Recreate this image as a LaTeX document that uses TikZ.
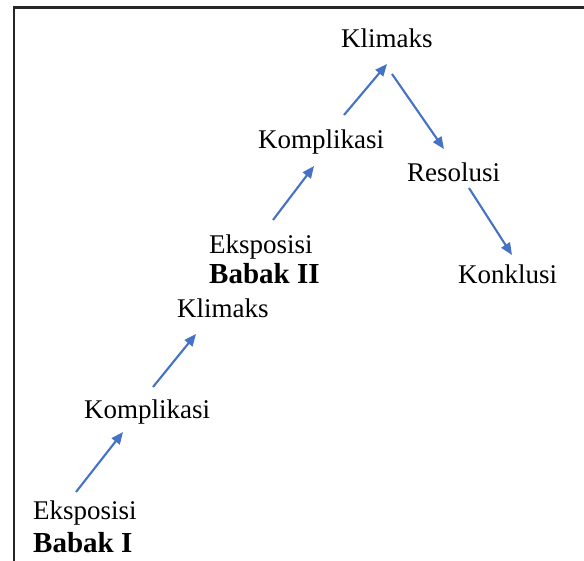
\documentclass[tikz,border=0pt]{standalone}
\usepackage{fontspec}
\setmainfont{Liberation Serif}
\usetikzlibrary{arrows.meta}
\definecolor{arrblue}{HTML}{4472C4}
\definecolor{frame}{HTML}{262626}
\tikzset{
  lbl/.style={anchor=base west, inner sep=0pt, font=\fontsize{27}{28}\selectfont},
  bld/.style={anchor=base west, inner sep=0pt, font=\fontsize{29}{30}\selectfont\bfseries},
  flow/.style={draw=arrblue, line width=2.1pt, -{Triangle[length=12pt,width=10pt]}}
}
\begin{document}
\begin{tikzpicture}[x=1pt,y=-1pt]
\useasboundingbox (0,0) rectangle (584,560);
\fill[white] (0,0) rectangle (584,560);
\draw[frame, line width=2.8pt] (14,580) -- (14,7.5) -- (600,7.5);
% labels
\node[lbl] (klim2) at (341,47) {Klimaks};
\node[lbl] (komp2) at (258,148) {Komplikasi};
\node[lbl] (reso) at (407,181) {Resolusi};
\node[lbl] (eks2) at (209,253) {Eksposisi};
\node[bld] (bab2) at (209,283) {Babak II};
\node[lbl] (konk) at (458,283) {Konklusi};
\node[lbl] (klim1) at (177,317) {Klimaks};
\node[lbl] (komp1) at (84,418) {Komplikasi};
\node[lbl] (eks1) at (33,519) {Eksposisi};
\node[bld] (bab1) at (33,552) {Babak I};
% arrow endpoints
\coordinate (a1s) at (76,492); \coordinate (a1e) at (123,432);
\coordinate (a2s) at (153,387); \coordinate (a2e) at (196,334);
\coordinate (a3s) at (273,220); \coordinate (a3e) at (314,166);
\coordinate (a4s) at (344,115); \coordinate (a4e) at (387,64);
\coordinate (a5s) at (392,74); \coordinate (a5e) at (444,149);
\coordinate (a6s) at (469,188); \coordinate (a6e) at (512,255);
\draw[flow] (a1s) -- (a1e);
\draw[flow] (a2s) -- (a2e);
\draw[flow] (a3s) -- (a3e);
\draw[flow] (a4s) -- (a4e);
\draw[flow] (a5s) -- (a5e);
\draw[flow] (a6s) -- (a6e);
\end{tikzpicture}
\end{document}
